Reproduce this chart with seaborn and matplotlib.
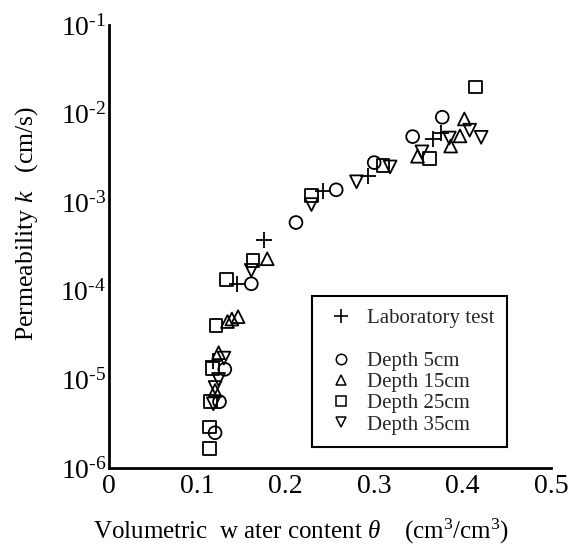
import numpy as np
import pandas as pd
import matplotlib
matplotlib.use("Agg")
import matplotlib.pyplot as plt
from matplotlib.lines import Line2D
from matplotlib.ticker import MultipleLocator, NullLocator, FuncFormatter, FixedLocator
import seaborn as sns

# Laboratory permeability tests
lab_theta = [0.118, 0.145, 0.175, 0.242, 0.293, 0.367, 0.375]
lab_k = [1.6e-5, 1.2e-4, 3.7e-4, 1.35e-3, 2.0e-3, 5.2e-3, 6.0e-3]

# Field measurements by depth
d5_theta = [0.120, 0.125, 0.131, 0.161, 0.2115, 0.257, 0.300, 0.3435, 0.377]
d5_k = [2.5e-6, 5.6e-6, 1.3e-5, 1.2e-4, 5.9e-4, 1.38e-3, 2.8e-3, 5.5e-3, 9.1e-3]

d15_theta = [0.120, 0.124, 0.134, 0.139, 0.146, 0.179, 0.349, 0.3865, 0.397, 0.402]
d15_k = [7.5e-6, 2.0e-5, 4.5e-5, 4.8e-5, 5.1e-5, 2.3e-4, 3.3e-3, 4.3e-3, 5.6e-3, 8.7e-3]

d25_theta = [0.114, 0.114, 0.115, 0.117, 0.121, 0.133, 0.163, 0.229, 0.310, 0.363, 0.415]
d25_k = [1.67e-6, 2.9e-6, 5.6e-6, 1.33e-5, 4.1e-5, 1.35e-4, 2.2e-4, 1.2e-3, 2.6e-3, 3.1e-3, 2.0e-2]

d35_theta = [0.118, 0.120, 0.124, 0.130, 0.161, 0.229, 0.280, 0.318, 0.354, 0.385, 0.408, 0.421]
d35_k = [5.3e-6, 8.1e-6, 1.0e-5, 1.74e-5, 1.7e-4, 9.4e-4, 1.7e-3, 2.5e-3, 3.7e-3, 5.3e-3, 6.5e-3, 5.4e-3]

series_labels = ["Laboratory test", "Depth 5cm", "Depth 15cm", "Depth 25cm", "Depth 35cm"]
x_ticks = [0, 0.1, 0.2, 0.3, 0.4, 0.5]
x_ticklabels = ["0", "0.1", "0.2", "0.3", "0.4", "0.5"]
y_exponents = [-6, -5, -4, -3, -2, -1]

frames = []
for name, th, kk in zip(series_labels,
                        [lab_theta, d5_theta, d15_theta, d25_theta, d35_theta],
                        [lab_k, d5_k, d15_k, d25_k, d35_k]):
    frames.append(pd.DataFrame({"theta": th, "k": kk, "series": name}))
df = pd.concat(frames, ignore_index=True)

sns.set_theme(style="white")
plt.rcParams["font.family"] = ["Liberation Serif", "DejaVu Serif"]
plt.rcParams["mathtext.fontset"] = "custom"
plt.rcParams["mathtext.rm"] = "Liberation Serif"
plt.rcParams["mathtext.it"] = "Liberation Serif:italic"

fig = plt.figure(figsize=(5.69, 5.47), dpi=100)
ax = fig.add_axes([109 / 569, 1 - 468 / 547, 442 / 569, 443 / 547])

markers = {"Laboratory test": "+", "Depth 5cm": "o", "Depth 15cm": "^",
           "Depth 25cm": "s", "Depth 35cm": "v"}

for name in series_labels:
    sub = df[df["series"] == name]
    if markers[name] == "+":
        sns.scatterplot(data=sub, x="theta", y="k", marker="+", s=130,
                        color="black", linewidth=1.3, ax=ax, legend=False,
                        zorder=3)
    else:
        sns.scatterplot(data=sub, x="theta", y="k", marker=markers[name], s=85,
                        facecolors="none", edgecolor="black", linewidth=1.3,
                        ax=ax, legend=False, zorder=3)

ax.set_yscale("log")
ax.set_xlim(0, 0.5)
ax.set_ylim(1e-6, 1e-1)

ax.xaxis.set_major_locator(FixedLocator(x_ticks))
ax.set_xticklabels(x_ticklabels)
ax.xaxis.set_minor_locator(MultipleLocator(0.05))
ax.yaxis.set_major_locator(FixedLocator([10.0 ** e for e in y_exponents]))
ax.yaxis.set_minor_locator(NullLocator())
ax.yaxis.set_major_formatter(FuncFormatter(
    lambda v, pos: r"10$^{\text{-%d}}$" % abs(int(round(np.log10(v))))))

ax.tick_params(axis="both", which="major", direction="in", length=9.5,
               width=1.3, color="black", labelsize=20, labelcolor="black")
ax.tick_params(axis="x", which="minor", direction="in", length=5, width=1.3,
               color="black")
ax.tick_params(axis="x", which="major", pad=4)
ax.tick_params(axis="y", which="major", pad=2)

for side in ["top", "right"]:
    ax.spines[side].set_visible(False)
for side in ["left", "bottom"]:
    ax.spines[side].set_linewidth(2.0)
    ax.spines[side].set_color("black")

ax.set_xlabel(r"Volumetric  w ater content $\mathit{\theta}$    (cm$^{3}$/cm$^{3}$)",
              fontsize=18, color="black")
ax.xaxis.set_label_coords(0.435, -0.11)
ax.set_ylabel(r"Permeability $\mathit{k}$   (cm/s)", fontsize=18.5, color="black")
ax.yaxis.set_label_coords(-0.155, 0.552)

handles = [
    Line2D([], [], linestyle="none", marker="+", markersize=10, mew=1.2, color="black"),
    Line2D([], [], linestyle="none", marker=None),
    Line2D([], [], linestyle="none", marker="o", markersize=7.5, mfc="none", mec="black", mew=1.1),
    Line2D([], [], linestyle="none", marker="^", markersize=7.5, mfc="none", mec="black", mew=1.1),
    Line2D([], [], linestyle="none", marker="s", markersize=7.5, mfc="none", mec="black", mew=1.1),
    Line2D([], [], linestyle="none", marker="v", markersize=7.5, mfc="none", mec="black", mew=1.1),
]
labels = [series_labels[0], " "] + series_labels[1:]
leg = ax.legend(handles, labels, loc="lower left", bbox_to_anchor=(0.459, 0.047),
                borderaxespad=0, frameon=True, fancybox=False, framealpha=1,
                edgecolor="black", fontsize=15, labelspacing=0.08,
                handletextpad=0.45, handlelength=1.6, borderpad=0.6)
leg.get_frame().set_linewidth(1.5)

fig.savefig("out.png", dpi=100)
